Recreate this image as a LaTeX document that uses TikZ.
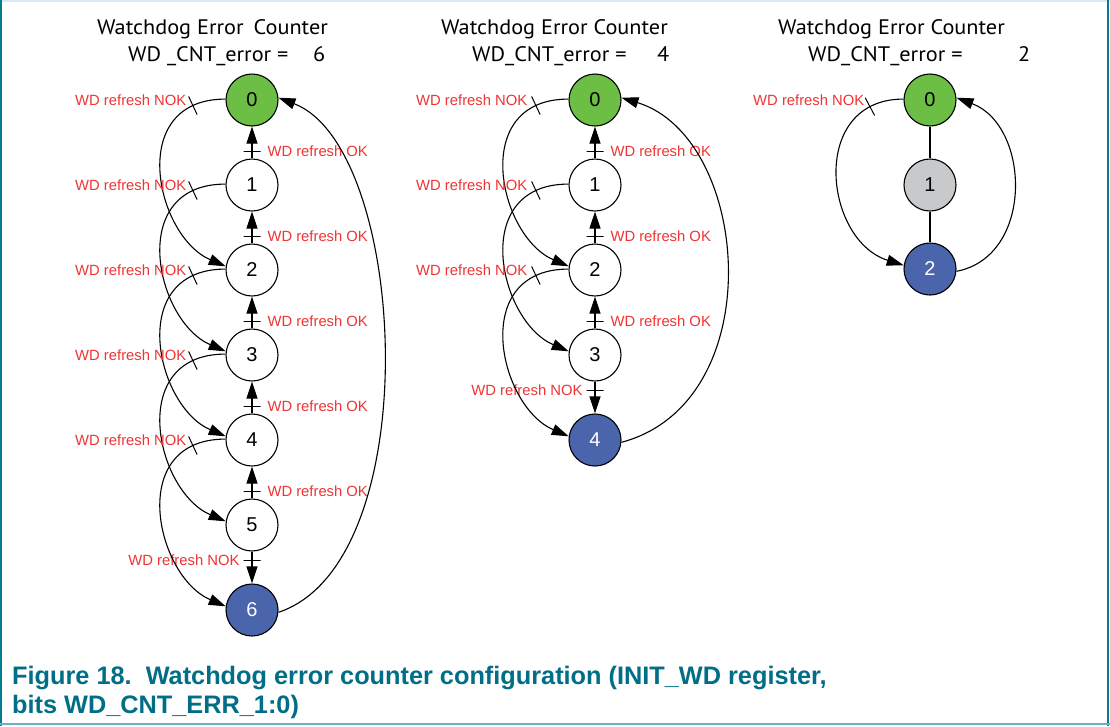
\documentclass[tikz,border=0pt]{standalone}
\usepackage{fontspec}
\setmainfont{Liberation Sans}
\newfontfamily\titlefont[FakeStretch=1.06]{PT Sans}
\newfontfamily\capfont{Liberation Sans}
\usetikzlibrary{arrows.meta}
\definecolor{nokred}{RGB}{240,52,52}
\definecolor{stgreen}{RGB}{108,190,69}
\definecolor{stblue}{RGB}{74,101,171}
\definecolor{stgrey}{RGB}{200,201,203}
\definecolor{capteal}{RGB}{0,110,135}
\definecolor{frameteal}{RGB}{0,125,145}
\definecolor{framelight}{RGB}{110,175,195}
\definecolor{frametop}{RGB}{215,234,242}
\tikzset{
  state/.style={circle, draw=black, line width=1.1pt, fill=white, minimum size=52pt, inner sep=0pt, font=\fontsize{20}{24}\selectfont},
  conn/.style={line width=1.1pt, -{Triangle[length=17pt,width=11pt]}},
  plain/.style={line width=1.1pt},
  tickm/.style={sloped, draw=black, line width=1pt, shape=rectangle, minimum width=0pt, minimum height=17pt, inner sep=0pt, outer sep=0pt},
  lbl/.style={text=nokred, inner sep=0pt, font=\fontsize{14.8}{17}\selectfont},
  ttl/.style={inner sep=0pt, font=\titlefont\fontsize{21}{25}\selectfont},
}
\begin{document}
\begin{tikzpicture}[x=1pt,y=-1pt]
\fill[white] (0,0) rectangle (1110,726);
\useasboundingbox (0,0) rectangle (1110,726);
% frame
\draw[frametop, line width=1.5pt] (0,0.75) -- (1110,0.75);
\draw[frameteal, line width=2pt] (1,0) -- (1,726);
\draw[frameteal, line width=2pt] (1108,0) -- (1108,726);
\draw[framelight, line width=2pt] (0,723.5) -- (1110,723.5);

% titles
\node[ttl, anchor=base west] (tL1) at (97,34) {Watchdog Error\hspace{10pt}Counter};
\node[ttl, anchor=base west] (tL2) at (128,61) {WD \_CNT\_error =};
\node[ttl, anchor=base west] (tL3) at (313,61) {6};
\node[ttl, anchor=base west] (tM1) at (441,34) {Watchdog Error Counter};
\node[ttl, anchor=base west] (tM2) at (472,61) {WD\_CNT\_error =};
\node[ttl, anchor=base west] (tM3) at (657,61) {4};
\node[ttl, anchor=base west] (tR1) at (778,34) {Watchdog Error Counter};
\node[ttl, anchor=base west] (tR2) at (808,61) {WD\_CNT\_error =};
\node[ttl, anchor=base west] (tR3) at (1018,61) {2};

% ---------- left diagram ----------
\node[state, fill=stgreen] (L0) at (252,100) {0};
\node[state] (L1) at (252,185) {1};
\node[state] (L2) at (252,270) {2};
\node[state] (L3) at (252,355) {3};
\node[state] (L4) at (252,440) {4};
\node[state] (L5) at (252,525) {5};
\node[state, fill=stblue, text=white] (L6) at (252,610) {6};

\foreach \a/\b in {1/0,2/1,3/2,4/3,5/4}{
  \draw[conn] (L\a.north) -- (L\b.south)
     node[tickm, pos=.23]{}
     node[lbl, pos=.23, anchor=west, xshift=15pt] (okL\a) {WD refresh OK};
}
\draw[conn] (L5.south) -- (L6.north)
   node[tickm, pos=.27]{}
   node[lbl, pos=.27, anchor=east, xshift=-12pt] (nokL5) {WD refresh NOK};
\foreach \a/\b in {0/2,1/3,2/4,3/5,4/6}{
  \draw[conn] (L\a.178) .. controls +(-100,0) and +(-70,-30) .. (L\b.172)
     node[tickm, pos=.13, minimum height=20pt]{};
  \node[lbl, anchor=east] (nokL\a) at ([xshift=-39pt]L\a.west) {WD refresh NOK};
}
\draw[conn] (L6.355) .. controls +(150,-50) and +(130,50) .. (L0.5);

% ---------- middle diagram ----------
\node[state, fill=stgreen] (M0) at (595,100) {0};
\node[state] (M1) at (595,185) {1};
\node[state] (M2) at (595,270) {2};
\node[state] (M3) at (595,355) {3};
\node[state, fill=stblue, text=white] (M4) at (595,440) {4};

\foreach \a/\b in {1/0,2/1,3/2}{
  \draw[conn] (M\a.north) -- (M\b.south)
     node[tickm, pos=.23]{}
     node[lbl, pos=.23, anchor=west, xshift=15pt] (okM\a) {WD refresh OK};
}
\draw[conn] (M3.south) -- (M4.north)
   node[tickm, pos=.27]{}
   node[lbl, pos=.27, anchor=east, xshift=-12pt] (nokM3) {WD refresh NOK};
\foreach \a/\b in {0/2,1/3,2/4}{
  \draw[conn] (M\a.178) .. controls +(-100,0) and +(-70,-30) .. (M\b.172)
     node[tickm, pos=.13, minimum height=20pt]{};
  \node[lbl, anchor=east] (nokM\a) at ([xshift=-41pt]M\a.west) {WD refresh NOK};
}
\draw[conn] (M4.355) .. controls +(150,-40) and +(130,40) .. (M0.5);

% ---------- right diagram ----------
\node[state, fill=stgreen] (R0) at (930,100) {0};
\node[state, fill=stgrey] (R1) at (930,185) {1};
\node[state, fill=stblue, text=white] (R2) at (930,269) {2};
\draw[plain] (R0.south) -- (R1.north);
\draw[plain] (R1.south) -- (R2.north);
\draw[conn] (R0.178) .. controls +(-95,0) and +(-80,-25) .. (R2.172)
   node[tickm, pos=.14, minimum height=20pt]{};
\node[lbl, anchor=east] (nokR0) at ([xshift=-39pt]R0.west) {WD refresh NOK};
\draw[conn] (R2.355) .. controls +(78,-15) and +(74,28) .. (R0.5);

% caption
\node[anchor=base west, inner sep=0pt, align=left, text=capteal,
      font=\capfont\bfseries\fontsize{25.3}{29}\selectfont] (cap) at (12,713)
  {Figure 18.\ \ Watchdog error counter configuration (INIT\_WD register,\\bits WD\_CNT\_ERR\_1:0)};
\end{tikzpicture}
\end{document}
